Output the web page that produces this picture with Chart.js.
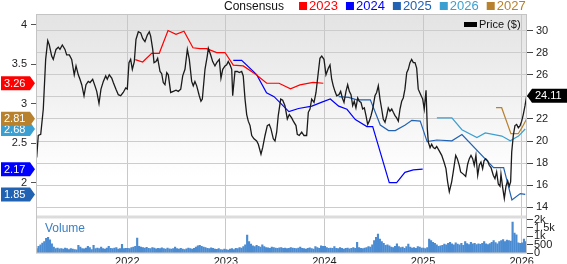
<!DOCTYPE html>
<html>
<head>
<meta charset="utf-8">
<script src="https://cdn.jsdelivr.net/npm/chart.js@4.4.1/dist/chart.umd.min.js"></script>
<style>
  html, body { margin: 0; padding: 0; background: #fff; }
  #wrap { width: 567px; height: 264px; }
</style>
</head>
<body>
<div id="wrap"><canvas id="chart" width="567" height="264"></canvas></div>
<script>
// ---- data ----
const yearTicks = [2022, 2023, 2024, 2025, 2026];
const priceTicks = [14, 16, 18, 20, 22, 24, 26, 28, 30];
const epsTicks = [2, 2.5, 3, 3.5, 4];
const volumeTicks = [0, 500, 1000, 1500, 2000];
const volumeTickLabels = ['0', '500', '1k', '1.5k', '2k'];

// weekly price ($), dates as decimal years
const priceYears = [
  2021.081, 2021.097, 2021.122, 2021.148, 2021.172, 2021.193, 2021.209, 2021.233, 2021.249, 2021.277,
  2021.300, 2021.317, 2021.341, 2021.368, 2021.385, 2021.412, 2021.436, 2021.462, 2021.480, 2021.503,
  2021.520, 2021.538, 2021.561, 2021.581, 2021.604, 2021.622, 2021.649, 2021.672, 2021.690, 2021.713,
  2021.733, 2021.757, 2021.781, 2021.797, 2021.817, 2021.842, 2021.858, 2021.885, 2021.909, 2021.933,
  2021.959, 2021.984, 2022.000, 2022.017, 2022.034, 2022.051, 2022.071, 2022.088, 2022.112, 2022.136,
  2022.156, 2022.179, 2022.203, 2022.223, 2022.237, 2022.258, 2022.271, 2022.291, 2022.308, 2022.332,
  2022.349, 2022.365, 2022.382, 2022.400, 2022.416, 2022.440, 2022.467, 2022.494, 2022.517, 2022.542,
  2022.562, 2022.585, 2022.609, 2022.629, 2022.653, 2022.669, 2022.686, 2022.704, 2022.730, 2022.747,
  2022.761, 2022.788, 2022.811, 2022.822, 2022.846, 2022.866, 2022.889, 2022.907, 2022.933, 2022.950,
  2022.968, 2022.991, 2023.008, 2023.024, 2023.042, 2023.059, 2023.069, 2023.092, 2023.116, 2023.136,
  2023.160, 2023.176, 2023.194, 2023.211, 2023.227, 2023.245, 2023.262, 2023.285, 2023.312, 2023.329,
  2023.356, 2023.373, 2023.397, 2023.420, 2023.440, 2023.457, 2023.481, 2023.498, 2023.515, 2023.531,
  2023.556, 2023.576, 2023.599, 2023.623, 2023.643, 2023.667, 2023.684, 2023.711, 2023.724, 2023.744,
  2023.769, 2023.792, 2023.819, 2023.836, 2023.853, 2023.870, 2023.894, 2023.914, 2023.937, 2023.954,
  2023.972, 2023.995, 2024.015, 2024.039, 2024.056, 2024.073, 2024.089, 2024.106, 2024.124, 2024.147,
  2024.164, 2024.181, 2024.198, 2024.218, 2024.235, 2024.252, 2024.269, 2024.286, 2024.302, 2024.319,
  2024.337, 2024.353, 2024.370, 2024.387, 2024.404, 2024.421, 2024.438, 2024.454, 2024.472, 2024.489,
  2024.512, 2024.529, 2024.546, 2024.563, 2024.580, 2024.596, 2024.614, 2024.631, 2024.647, 2024.664,
  2024.682, 2024.698, 2024.715, 2024.732, 2024.749, 2024.766, 2024.783, 2024.799, 2024.816, 2024.834,
  2024.850, 2024.867, 2024.884, 2024.901, 2024.918, 2024.935, 2024.951, 2024.976, 2024.996, 2025.012,
  2025.030, 2025.043, 2025.053, 2025.071, 2025.087, 2025.104, 2025.121, 2025.138, 2025.164, 2025.189,
  2025.212, 2025.232, 2025.249, 2025.266, 2025.290, 2025.306, 2025.331, 2025.347, 2025.367, 2025.381,
  2025.408, 2025.432, 2025.452, 2025.469, 2025.486, 2025.503, 2025.519, 2025.536, 2025.554, 2025.570,
  2025.587, 2025.604, 2025.618, 2025.635, 2025.655, 2025.671, 2025.689, 2025.712, 2025.729, 2025.746,
  2025.763, 2025.780, 2025.790, 2025.807, 2025.824, 2025.841, 2025.858, 2025.874, 2025.888, 2025.899,
  2025.915, 2025.932, 2025.949, 2025.966, 2025.984, 2026.000, 2026.016, 2026.034, 2026.051
];
const priceValues = [
  18.5, 20.5, 20.6, 22.9, 27.4, 29.1, 28.7, 27.7, 27.4, 28.3,
  28.5, 28.3, 28.7, 28.3, 27.8, 27.8, 27.4, 26.0, 26.8, 26.0,
  25.6, 25.1, 24.1, 25.1, 25.4, 25.3, 25.6, 25.0, 24.5, 23.4,
  24.7, 25.4, 25.9, 25.6, 26.0, 25.7, 25.3, 24.7, 24.2, 24.1,
  24.4, 24.8, 24.7, 27.1, 27.4, 26.5, 27.2, 29.2, 29.9, 29.8,
  29.3, 29.0, 29.6, 29.9, 29.5, 28.3, 27.1, 27.2, 27.5, 26.3,
  26.1, 25.3, 25.1, 26.2, 26.0, 24.4, 24.5, 24.6, 24.5, 24.7,
  25.9, 26.5, 28.3, 27.4, 25.4, 25.0, 25.4, 25.0, 24.1, 23.6,
  23.8, 26.5, 27.7, 28.4, 27.8, 27.2, 26.8, 27.1, 27.4, 25.7,
  26.5, 26.8, 26.9, 27.2, 26.9, 26.5, 24.1, 26.3, 26.3, 26.2,
  26.3, 25.9, 23.8, 22.4, 21.8, 21.4, 20.5, 20.2, 20.0, 19.7,
  18.8, 19.4, 20.5, 21.4, 21.5, 21.1, 20.2, 20.0, 20.8, 22.3,
  23.8, 23.7, 23.2, 22.0, 22.4, 22.1, 21.8, 21.4, 20.6, 20.5,
  20.8, 20.5, 20.5, 22.6, 22.9, 23.8, 23.5, 24.4, 26.2, 27.5,
  27.7, 27.4, 26.0, 26.6, 26.9, 25.6, 25.0, 24.5, 24.1, 24.2,
  24.5, 23.9, 23.5, 24.5, 25.1, 24.5, 24.2, 23.2, 23.6, 23.0,
  23.9, 23.6, 23.5, 22.9, 23.0, 22.3, 21.5, 21.8, 22.3, 22.9,
  24.1, 24.4, 25.0, 23.8, 22.9, 22.0, 21.7, 22.3, 23.0, 22.7,
  22.9, 22.6, 22.3, 22.1, 21.8, 22.9, 23.6, 23.9, 24.7, 26.2,
  26.5, 27.1, 27.4, 27.1, 27.1, 26.6, 24.7, 24.2, 23.8, 22.9,
  24.6, 21.1, 19.9, 19.4, 19.7, 19.4, 19.3, 19.5, 19.1, 18.7,
  18.1, 17.5, 16.3, 15.4, 16.3, 17.2, 18.7, 18.4, 17.8, 17.2,
  17.0, 16.8, 17.9, 18.4, 18.7, 18.4, 17.8, 18.7, 16.9, 17.8,
  18.1, 17.5, 18.2, 18.4, 18.2, 17.8, 17.6, 16.9, 16.6, 17.2,
  16.1, 15.9, 17.0, 15.8, 14.8, 15.9, 16.4, 15.9, 16.3, 19.0,
  20.5, 21.4, 21.5, 21.2, 21.4, 21.8, 22.4, 23.2, 24.11
];

// consensus EPS estimates by fiscal year
const eps2023Years = [2022.081, 2022.156, 2022.247, 2022.324, 2022.413, 2022.494, 2022.575, 2022.666, 2022.737, 2022.805, 2022.907, 2022.991, 2023.075, 2023.176, 2023.305, 2023.414, 2023.539, 2023.655, 2023.751, 2023.884, 2023.988];
const eps2023Values = [3.56, 3.53, 3.64, 3.64, 3.93, 3.88, 3.92, 3.71, 3.70, 3.70, 3.65, 3.65, 3.49, 3.48, 3.37, 3.26, 3.26, 3.19, 3.24, 3.27, 3.26];

const eps2024Years = [2023.075, 2023.160, 2023.312, 2023.412, 2023.489, 2023.639, 2023.737, 2023.872, 2023.974, 2024.059, 2024.144, 2024.228, 2024.313, 2024.430, 2024.489, 2024.657, 2024.732, 2024.816, 2024.901, 2024.996];
const eps2024Values = [3.55, 3.55, 3.37, 3.14, 3.09, 2.90, 2.94, 2.97, 3.02, 3.06, 2.97, 2.93, 2.80, 2.71, 2.71, 2.00, 2.00, 2.13, 2.16, 2.17];

const eps2025Years = [2024.144, 2024.245, 2024.329, 2024.465, 2024.566, 2024.650, 2024.718, 2024.819, 2024.886, 2024.971, 2025.041, 2025.140, 2025.292, 2025.394, 2025.715, 2025.817, 2025.901, 2025.986, 2026.036];
const eps2025Values = [3.09, 3.08, 3.05, 3.05, 2.73, 2.66, 2.66, 2.73, 2.79, 2.78, 2.52, 2.54, 2.53, 2.61, 2.19, 2.19, 1.78, 1.86, 1.85];

const eps2026Years = [2025.140, 2025.292, 2025.394, 2025.546, 2025.631, 2025.799, 2025.884, 2025.968, 2026.036];
const eps2026Values = [2.82, 2.82, 2.67, 2.57, 2.63, 2.59, 2.53, 2.59, 2.68];

const eps2027Years = [2025.740, 2025.797, 2025.891, 2025.965, 2026.000, 2026.051];
const eps2027Values = [2.95, 2.95, 2.62, 2.62, 2.69, 2.81];

// weekly volume, first week below
const volumeStart = 2021.081;
const volumeValues = [
  // 2021
  285, 420, 510, 610, 700, 890, 950, 800, 570, 380, 290, 320, 270, 290, 250, 320, 290, 230, 290, 250,
  230, 210, 480, 380, 290, 270, 320, 420, 340, 230, 480, 290, 320, 290, 380, 290, 250, 320, 420, 300,
  290, 320, 340, 250, 290, 530, 290, 300,
  // 2022
  300, 290, 350, 380, 420, 910, 420, 380, 340, 320, 360, 300, 290, 340, 320, 270, 300, 280, 330, 290,
  260, 310, 270, 250, 290, 380, 280, 260, 300, 250, 230, 270, 320, 280, 260, 300, 380, 450, 480, 420,
  380, 350, 300, 280, 330, 300, 260, 240, 280, 230, 210, 250,
  // 2023
  230, 200, 250, 280, 230, 300, 280, 350, 320, 400, 500, 1080, 700, 550, 450, 400, 480, 420, 380, 500,
  400, 350, 330, 300, 380, 350, 320, 300, 330, 350, 300, 320, 280, 300, 350, 320, 300, 280, 320, 380,
  300, 280, 260, 300, 330, 290, 260, 400, 350, 300, 450, 420,
  // 2024
  420, 350, 300, 320, 300, 400, 300, 280, 350, 300, 250, 300, 320, 270, 300, 340, 300, 660, 350, 300,
  280, 320, 350, 400, 380, 500, 760, 950, 1140, 850, 700, 600, 480, 500, 450, 380, 350, 420, 560, 400,
  350, 380, 300, 400, 550, 380, 320, 350, 300, 400, 380, 320,
  // 2025
  320, 280, 350, 850, 760, 650, 600, 500, 420, 450, 480, 550, 500, 600, 650, 560, 500, 620, 550, 500,
  600, 480, 700, 580, 520, 650, 560, 600, 520, 560, 540, 600, 700, 560, 520, 580, 650, 760, 640, 560,
  700, 750, 820, 700, 780, 750, 720, 1850, 1200, 1100, 620, 600,
  // 2026
  620, 850, 700
];

const colors = {
  price: '#1a1a1a',
  e2023: '#ff0000',
  e2024: '#0000ff',
  e2025: '#2262b2',
  e2026: '#3b9fd1',
  e2027: '#b7812d',
  volume: '#4a8bd2'
};

const legendItems = [
  { label: '2023', color: colors.e2023 },
  { label: '2024', color: colors.e2024 },
  { label: '2025', color: colors.e2025 },
  { label: '2026', color: colors.e2026 },
  { label: '2027', color: colors.e2027 }
];

// ---- build datasets ----
const toPoints = (xs, ys) => xs.map((x, i) => ({ x: x, y: ys[i] }));
const last = arr => arr[arr.length - 1];

const lineDataset = (label, xs, ys, color, axis, order, width) => ({
  type: 'line',
  label: label,
  data: toPoints(xs, ys),
  borderColor: color,
  borderWidth: width,
  pointRadius: 0,
  tension: 0,
  fill: false,
  yAxisID: axis,
  order: order
});

const volumePoints = volumeValues.map((v, i) => ({ x: volumeStart + i / 52, y: v }));

const fontFamily = '"Liberation Sans", Arial, sans-serif';
Chart.defaults.font.family = fontFamily;

// draws a value tag with an arrow pointing at the axis
function drawTag(ctx, side, edge, yc, color, text) {
  const h = 14, arrow = 5;
  ctx.beginPath();
  if (side === 'left') {
    ctx.moveTo(1, yc - h / 2);
    ctx.lineTo(edge - arrow - 1, yc - h / 2);
    ctx.lineTo(edge - 1, yc);
    ctx.lineTo(edge - arrow - 1, yc + h / 2);
    ctx.lineTo(1, yc + h / 2);
  } else {
    ctx.moveTo(edge, yc);
    ctx.lineTo(edge + arrow, yc - h / 2);
    ctx.lineTo(567, yc - h / 2);
    ctx.lineTo(567, yc + h / 2);
    ctx.lineTo(edge + arrow, yc + h / 2);
  }
  ctx.closePath();
  ctx.fillStyle = color;
  ctx.fill();
  ctx.fillStyle = '#fff';
  ctx.font = '11px ' + fontFamily;
  ctx.textBaseline = 'middle';
  ctx.textAlign = 'left';
  ctx.fillText(text, side === 'left' ? 4 : edge + 8, yc + 0.5);
}

const panelPlugin = {
  id: 'panels',
  beforeDraw(chart) {
    const { ctx, chartArea } = chart;
    const yP = chart.scales.yP;
    ctx.save();
    ctx.fillStyle = '#fff';
    ctx.fillRect(0, 0, chart.width, chart.height);
    const g = ctx.createLinearGradient(0, yP.top, 0, yP.bottom);
    g.addColorStop(0, '#e3e3e3');
    g.addColorStop(0.8, '#ffffff');
    ctx.fillStyle = g;
    ctx.fillRect(chartArea.left, yP.top, chartArea.right - chartArea.left, yP.bottom - yP.top);
    ctx.restore();
  },
  beforeDatasetsDraw(chart) {
    const { ctx, chartArea } = chart;
    const yV = chart.scales.yV;
    ctx.save();
    ctx.fillStyle = '#dcdcdc';
    ctx.fillRect(chartArea.left, yV.top - 2, chartArea.right - chartArea.left, 3);
    ctx.restore();
  },
  afterDraw(chart) {
    const { ctx, chartArea } = chart;
    const yE = chart.scales.yE, yP = chart.scales.yP;
    ctx.save();

    // plot frame
    ctx.strokeStyle = '#c4c4c4';
    ctx.lineWidth = 1;
    ctx.strokeRect(chartArea.left + 0.5, chartArea.top + 0.5,
      chartArea.right - chartArea.left - 1, chartArea.bottom - chartArea.top - 1);

    // legend across the top
    ctx.textBaseline = 'alphabetic';
    ctx.textAlign = 'left';
    ctx.font = '12px ' + fontFamily;
    ctx.fillStyle = '#111';
    let x = 224;
    ctx.fillText('Consensus', x, 10);
    x += ctx.measureText('Consensus').width + 15;
    ctx.font = '13px ' + fontFamily;
    legendItems.forEach(item => {
      ctx.fillStyle = item.color;
      ctx.fillRect(x, 2, 8, 8);
      x += 10;
      ctx.fillText(item.label, x, 10);
      x += ctx.measureText(item.label).width + 8;
    });

    // price key inside the plot
    ctx.fillStyle = '#000';
    ctx.fillRect(chartArea.right - 63, 22, 13, 5);
    ctx.font = '11px ' + fontFamily;
    ctx.fillStyle = '#111';
    ctx.textBaseline = 'middle';
    ctx.fillText('Price ($)', chartArea.right - 48, 25);

    // volume caption
    ctx.font = '12px ' + fontFamily;
    ctx.fillStyle = '#3a80c6';
    ctx.fillText('Volume', chartArea.left + 9, 229);

    // last-value tags, low values first so higher ones sit on top
    const tags = [
      { v: last(eps2025Values), c: colors.e2025 },
      { v: last(eps2024Values), c: colors.e2024 },
      { v: last(eps2026Values), c: colors.e2026 },
      { v: last(eps2027Values), c: colors.e2027 },
      { v: last(eps2023Values), c: colors.e2023 }
    ];
    tags.forEach(t => drawTag(ctx, 'left', chartArea.left, yE.getPixelForValue(t.v), t.c, t.v.toFixed(2)));
    const lp = last(priceValues);
    drawTag(ctx, 'right', chartArea.right, yP.getPixelForValue(lp), '#000', lp.toFixed(2));

    ctx.restore();
  }
};

const tickFont = { size: 11, family: fontFamily };

new Chart(document.getElementById('chart'), {
  type: 'line',
  data: {
    datasets: [
      lineDataset('Price ($)', priceYears, priceValues, colors.price, 'yP', 0, 1.3),
      lineDataset('2023', eps2023Years, eps2023Values, colors.e2023, 'yE', 1, 1.2),
      lineDataset('2024', eps2024Years, eps2024Values, colors.e2024, 'yE', 1, 1.2),
      lineDataset('2025', eps2025Years, eps2025Values, colors.e2025, 'yE', 1, 1.2),
      lineDataset('2026', eps2026Years, eps2026Values, colors.e2026, 'yE', 1, 1.2),
      lineDataset('2027', eps2027Years, eps2027Values, colors.e2027, 'yE', 1, 1.2),
      {
        type: 'bar',
        label: 'Volume',
        data: volumePoints,
        backgroundColor: colors.volume,
        barThickness: 1.5,
        yAxisID: 'yV',
        order: 2
      }
    ]
  },
  options: {
    responsive: false,
    animation: false,
    devicePixelRatio: 1,
    layout: { padding: { top: 14, left: 0, right: 0, bottom: 0 } },
    plugins: {
      legend: { display: false },
      tooltip: { enabled: false }
    },
    scales: {
      x: {
        type: 'linear',
        position: 'bottom',
        offset: false,
        min: 2021.074,
        max: 2026.054,
        afterBuildTicks: axis => { axis.ticks = yearTicks.map(v => ({ value: v })); },
        afterFit: axis => { axis.height = 10; },
        ticks: { font: tickFont, color: '#222', padding: 2, maxRotation: 0, autoSkip: false, callback: v => String(v) },
        grid: { color: '#c8c8c8', drawTicks: false, offset: false },
        border: { display: false }
      },
      yE: {
        position: 'left',
        min: 1.101,
        max: 4.139,
        afterBuildTicks: axis => { axis.ticks = epsTicks.map(v => ({ value: v })); },
        afterFit: axis => { axis.width = 36; },
        ticks: { font: tickFont, color: '#222', padding: 4, autoSkip: false, callback: v => String(v) },
        grid: { drawOnChartArea: false, tickColor: '#555', tickLength: 5 },
        border: { display: false }
      },
      yP: {
        position: 'right',
        stack: 'right',
        stackWeight: 204,
        min: 13.07,
        max: 31.51,
        afterBuildTicks: axis => { axis.ticks = priceTicks.map(v => ({ value: v })); },
        afterFit: axis => { axis.width = 40; },
        ticks: { font: tickFont, color: '#222', padding: 3, autoSkip: false, callback: v => String(v) },
        grid: { color: '#cccccc', tickColor: '#444', tickLength: 6 },
        border: { display: false }
      },
      yV: {
        position: 'right',
        stack: 'right',
        stackWeight: 36,
        min: 0,
        max: 2118,
        afterBuildTicks: axis => { axis.ticks = volumeTicks.map(v => ({ value: v })); },
        afterFit: axis => { axis.width = 40; },
        ticks: {
          font: tickFont, color: '#222', padding: 1, autoSkip: false,
          callback: v => volumeTickLabels[volumeTicks.indexOf(v)]
        },
        grid: { drawOnChartArea: false, tickColor: '#444', tickLength: 6 },
        border: { display: false }
      }
    }
  },
  plugins: [panelPlugin]
});
</script>
</body>
</html>
